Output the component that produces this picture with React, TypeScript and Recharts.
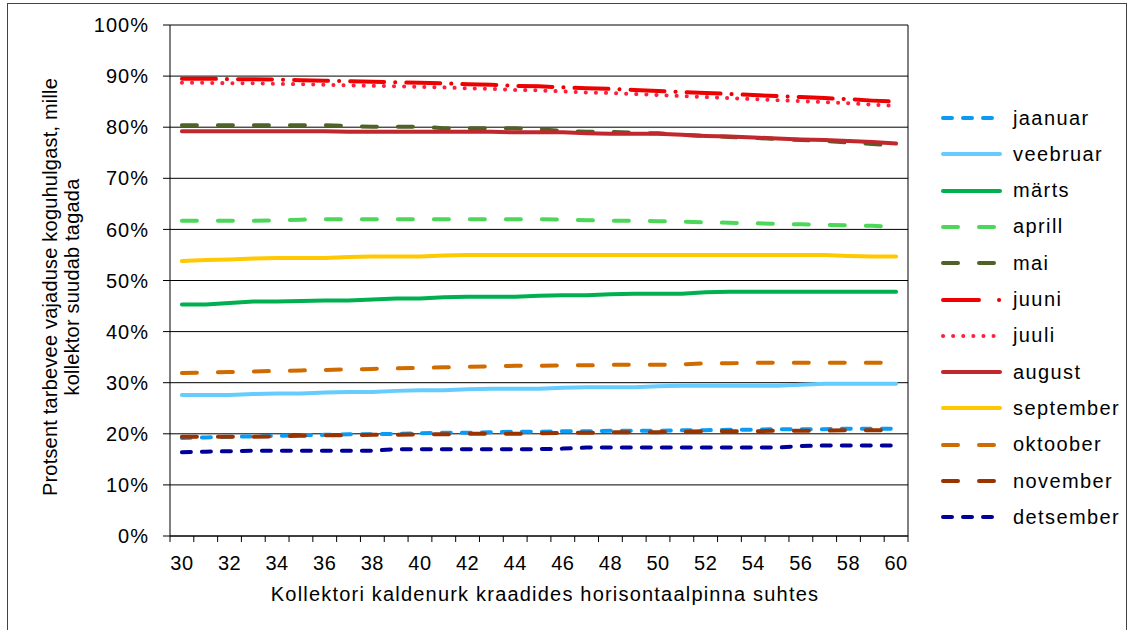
import React from 'react';
import { LineChart, Line, XAxis, YAxis, CartesianGrid } from 'recharts';

const angles = [30, 31, 32, 33, 34, 35, 36, 37, 38, 39, 40, 41, 42, 43, 44, 45, 46, 47, 48, 49, 50, 51, 52, 53, 54, 55, 56, 57, 58, 59, 60];
const xLabels = [30, 32, 34, 36, 38, 40, 42, 44, 46, 48, 50, 52, 54, 56, 58, 60];
const yTicks = [0, 10, 20, 30, 40, 50, 60, 70, 80, 90, 100];

const jaanuar = [19.2, 19.3, 19.4, 19.5, 19.6, 19.7, 19.8, 19.9, 19.9, 20.0, 20.1, 20.2, 20.2, 20.3, 20.4, 20.4, 20.5, 20.5, 20.6, 20.6, 20.6, 20.7, 20.7, 20.8, 20.8, 20.9, 20.9, 20.9, 21.0, 21.0, 21.0];
const veebruar = [27.6, 27.6, 27.6, 27.8, 27.9, 27.9, 28.1, 28.2, 28.2, 28.4, 28.5, 28.5, 28.7, 28.8, 28.8, 28.8, 29.0, 29.1, 29.1, 29.1, 29.3, 29.4, 29.4, 29.4, 29.4, 29.4, 29.6, 29.8, 29.8, 29.8, 29.8];
const marts = [45.3, 45.3, 45.6, 45.9, 45.9, 46.0, 46.1, 46.1, 46.3, 46.5, 46.5, 46.7, 46.8, 46.8, 46.8, 47.0, 47.1, 47.1, 47.3, 47.4, 47.4, 47.4, 47.7, 47.8, 47.8, 47.8, 47.8, 47.8, 47.8, 47.8, 47.8];
const aprill = [61.7, 61.7, 61.7, 61.7, 61.8, 61.9, 62.0, 62.0, 62.0, 62.0, 62.0, 62.0, 62.0, 62.0, 62.0, 62.0, 61.9, 61.8, 61.7, 61.7, 61.6, 61.5, 61.4, 61.3, 61.2, 61.1, 61.0, 60.9, 60.8, 60.7, 60.5];
const mai = [80.4, 80.4, 80.4, 80.4, 80.4, 80.4, 80.4, 80.2, 80.1, 80.1, 80.1, 79.8, 79.8, 79.8, 79.8, 79.6, 79.3, 79.1, 79.1, 78.9, 78.8, 78.5, 78.3, 78.1, 77.9, 77.7, 77.5, 77.3, 77.0, 76.7, 76.4];
const juuni = [89.5, 89.5, 89.4, 89.4, 89.3, 89.2, 89.1, 89.0, 88.9, 88.8, 88.7, 88.6, 88.4, 88.3, 88.1, 88.0, 87.8, 87.6, 87.5, 87.3, 87.1, 86.9, 86.7, 86.5, 86.3, 86.1, 85.9, 85.7, 85.5, 85.2, 85.0];
const juuli = [88.7, 88.7, 88.6, 88.6, 88.5, 88.4, 88.3, 88.2, 88.1, 88.0, 87.9, 87.8, 87.6, 87.5, 87.3, 87.2, 87.0, 86.8, 86.7, 86.5, 86.3, 86.1, 85.9, 85.7, 85.5, 85.3, 85.1, 84.9, 84.7, 84.4, 84.2];
const august = [79.2, 79.2, 79.2, 79.2, 79.2, 79.2, 79.2, 79.1, 79.1, 79.1, 79.1, 79.1, 79.1, 79.1, 79.0, 79.0, 79.0, 78.8, 78.7, 78.7, 78.7, 78.5, 78.3, 78.2, 78.0, 77.8, 77.6, 77.5, 77.3, 77.1, 76.8];
const september = [53.8, 54.0, 54.1, 54.3, 54.4, 54.4, 54.4, 54.6, 54.7, 54.7, 54.7, 54.9, 55.0, 55.0, 55.0, 55.0, 55.0, 55.0, 55.0, 55.0, 55.0, 55.0, 55.0, 55.0, 55.0, 55.0, 55.0, 55.0, 54.8, 54.7, 54.7];
const oktoober = [31.9, 32.0, 32.1, 32.2, 32.3, 32.4, 32.5, 32.6, 32.7, 32.8, 32.9, 33.0, 33.1, 33.2, 33.3, 33.3, 33.4, 33.4, 33.5, 33.5, 33.5, 33.6, 33.8, 33.8, 33.9, 33.9, 33.9, 33.9, 33.9, 33.9, 33.9];
const november = [19.4, 19.4, 19.4, 19.4, 19.5, 19.6, 19.7, 19.7, 19.8, 19.8, 19.9, 19.9, 20.0, 20.0, 20.0, 20.1, 20.2, 20.2, 20.3, 20.3, 20.3, 20.4, 20.5, 20.5, 20.5, 20.6, 20.6, 20.6, 20.7, 20.7, 20.7];
const detsember = [16.4, 16.5, 16.6, 16.7, 16.7, 16.7, 16.7, 16.7, 16.7, 17.0, 17.0, 17.0, 17.0, 17.0, 17.0, 17.0, 17.1, 17.3, 17.3, 17.3, 17.3, 17.3, 17.3, 17.3, 17.3, 17.3, 17.6, 17.7, 17.7, 17.7, 17.7];

const FONT = '"Liberation Sans", Arial, sans-serif';

// name, values, colour, dash in plot, dash in legend sample
const series = [
  { name: 'jaanuar', values: jaanuar, color: '#0a9cf5', dash: '9 11', legendDash: '9 11' },
  { name: 'veebruar', values: veebruar, color: '#66ccff', dash: undefined, legendDash: undefined },
  { name: 'märts', values: marts, color: '#00b050', dash: undefined, legendDash: undefined },
  { name: 'aprill', values: aprill, color: '#4cd65a', dash: '15 21', legendDash: '15 21' },
  { name: 'mai', values: mai, color: '#4f6228', dash: '15 21', legendDash: '15 21' },
  { name: 'juuni', values: juuni, color: '#ee0000', dash: '34 11 0.1 11', legendDash: '36 20 0.1 100' },
  { name: 'juuli', values: juuli, color: '#ff1f3f', dash: '0.1 10', legendDash: '0.1 10' },
  { name: 'august', values: august, color: '#c0282d', dash: undefined, legendDash: undefined },
  { name: 'september', values: september, color: '#ffc800', dash: undefined, legendDash: undefined },
  { name: 'oktoober', values: oktoober, color: '#d06b00', dash: '15 21', legendDash: '15 21' },
  { name: 'november', values: november, color: '#993300', dash: '15 21', legendDash: '15 21' },
  { name: 'detsember', values: detsember, color: '#000099', dash: '9 11', legendDash: '9 11' },
];

const data = angles.map((a, i) => {
  const row: Record<string, number> = { angle: a };
  series.forEach((s) => {
    row[s.name] = s.values[i];
  });
  return row;
});

// tick marks sit between categories, labels on every second category
const boundaryTicks = [...angles.map((a) => a - 0.5), angles[angles.length - 1] + 0.5];
const allXTicks = [...boundaryTicks, ...xLabels];

function XTick(props: any) {
  const { x, y, payload } = props;
  const v = payload.value;
  if (Number.isInteger(v)) {
    return (
      <text x={x} y={y + 34} textAnchor="middle" fontSize={20} fontFamily={FONT} fill="#000" style={{ letterSpacing: 0.5 }}>
        {v}
      </text>
    );
  }
  return <line x1={x} x2={x} y1={y} y2={y + 6} stroke="#000" strokeWidth={1} />;
}

function LegendBox() {
  return (
    <div style={{ position: 'absolute', left: 935, top: 100, width: 195 }}>
      {series.map((s, i) => (
        <div key={s.name} style={{ position: 'absolute', left: 0, top: i * 36.3, height: 36, display: 'flex', alignItems: 'center' }}>
          <svg width={72} height={36}>
            <line
              x1={8}
              x2={65}
              y1={18}
              y2={18}
              stroke={s.color}
              strokeWidth={4}
              strokeLinecap="round"
              strokeDasharray={s.legendDash}
            />
          </svg>
          <span style={{ fontFamily: FONT, fontSize: 20, letterSpacing: 1.4, color: '#000', marginLeft: 6, whiteSpace: 'nowrap' }}>{s.name}</span>
        </div>
      ))}
    </div>
  );
}

export default function App() {
  return (
    <div style={{ position: 'absolute', left: 0, top: 0, width: 1130, height: 630, background: '#fff', overflow: 'hidden' }}>
      <div style={{ position: 'absolute', left: 7, top: 3, width: 1120, height: 640, border: '1px solid #444', boxSizing: 'border-box' }} />
      <LineChart width={1130} height={630} data={data} margin={{ top: 25, right: 222, bottom: 0, left: 0 }}>
        <CartesianGrid
          stroke="#000"
          strokeWidth={1}
          vertical={true}
          verticalCoordinatesGenerator={(p: any) => [p.offset.left + p.offset.width]}
        />
        <XAxis
          dataKey="angle"
          type="number"
          domain={[29.5, 60.5]}
          ticks={allXTicks}
          interval={0}
          tickLine={false}
          tickSize={0}
          tickMargin={0}
          tick={<XTick />}
          axisLine={{ stroke: '#000' }}
          height={94}
          allowDataOverflow
        />
        <YAxis
          domain={[0, 100]}
          ticks={yTicks}
          interval={0}
          width={170}
          tickSize={7}
          tickMargin={14}
          tickLine={{ stroke: '#000' }}
          axisLine={{ stroke: '#000' }}
          tick={{ fontSize: 20, fontFamily: FONT, fill: '#000', letterSpacing: 1 }}
          tickFormatter={(v: number) => `${v}%`}
        />
        {series.map((s) => (
          <Line
            key={s.name}
            type="linear"
            dataKey={s.name}
            stroke={s.color}
            strokeWidth={4}
            strokeLinecap="round"
            strokeDasharray={s.dash}
            dot={false}
            activeDot={false}
            isAnimationActive={false}
          />
        ))}
      </LineChart>
      <div
        style={{
          position: 'absolute',
          left: 61,
          top: 287,
          transform: 'translate(-50%, -50%) rotate(-90deg)',
          fontFamily: FONT,
          fontSize: 20,
          letterSpacing: 0.2,
          lineHeight: '22px',
          textAlign: 'center',
          whiteSpace: 'nowrap',
          color: '#000',
        }}
      >
        Protsent tarbevee vajaduse koguhulgast, mille
        <br />
        kollektor suudab tagada
      </div>
      <div
        style={{
          position: 'absolute',
          left: 545,
          top: 594,
          transform: 'translate(-50%, -50%)',
          fontFamily: FONT,
          fontSize: 20,
          letterSpacing: 1.2,
          whiteSpace: 'nowrap',
          color: '#000',
        }}
      >
        Kollektori kaldenurk kraadides horisontaalpinna suhtes
      </div>
      <LegendBox />
    </div>
  );
}
